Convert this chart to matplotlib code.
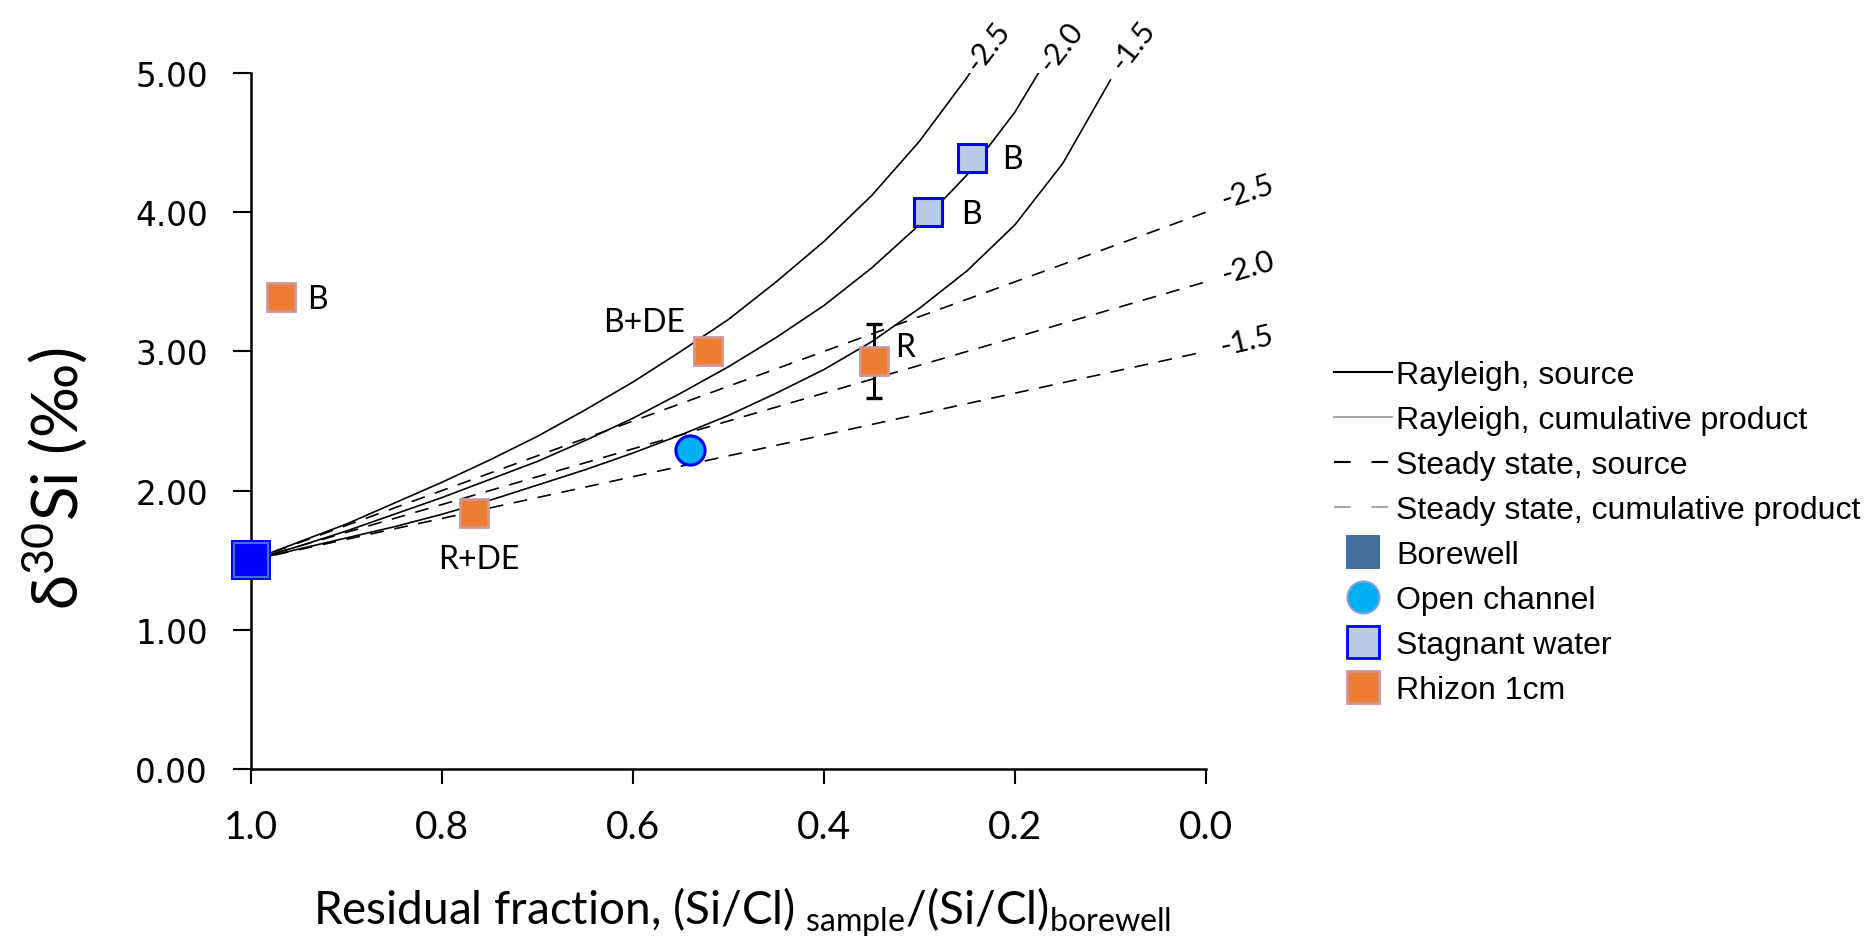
import matplotlib
matplotlib.use("Agg")
import matplotlib.pyplot as plt
from matplotlib.lines import Line2D
import numpy as np

plt.rcParams['font.family'] = ['Lato', 'DejaVu Sans']
plt.rcParams['mathtext.fontset'] = 'custom'
plt.rcParams['mathtext.rm'] = 'Lato'
plt.rcParams['mathtext.default'] = 'regular'

# ---------------- data ----------------
# Rayleigh model (source), residual fraction f and delta30Si
ray_f = [1.0, 0.95, 0.9, 0.85, 0.8, 0.75, 0.7, 0.65, 0.6, 0.55, 0.5,
         0.45, 0.4, 0.35, 0.3, 0.25, 0.2, 0.15, 0.1]
ray_25 = [1.50, 1.63, 1.76, 1.91, 2.06, 2.22, 2.39, 2.58, 2.78, 3.00, 3.23,
          3.50, 3.79, 4.12, 4.51, 4.97, 5.52, 6.24, 7.26]
ray_20 = [1.50, 1.60, 1.71, 1.83, 1.95, 2.08, 2.21, 2.36, 2.52, 2.70, 2.89,
          3.10, 3.33, 3.60, 3.91, 4.27, 4.72, 5.29, 6.11]
ray_15 = [1.50, 1.58, 1.66, 1.74, 1.83, 1.93, 2.04, 2.15, 2.27, 2.40, 2.54,
          2.70, 2.87, 3.07, 3.31, 3.58, 3.91, 4.35, 4.95]
# Steady state model (source)
ss_f = [1.0, 0.9, 0.8, 0.7, 0.6, 0.5, 0.4, 0.3, 0.2, 0.1, 0.0]
ss_25 = [1.50, 1.75, 2.00, 2.25, 2.50, 2.75, 3.00, 3.25, 3.50, 3.75, 4.00]
ss_20 = [1.50, 1.70, 1.90, 2.10, 2.30, 2.50, 2.70, 2.90, 3.10, 3.30, 3.50]
ss_15 = [1.50, 1.65, 1.80, 1.95, 2.10, 2.25, 2.40, 2.55, 2.70, 2.85, 3.00]
curve_labels = ["-2.5", "-2.0", "-1.5"]

# samples
bore_x = [1.0]
bore_y = [1.50]
open_x = [0.54]
open_y = [2.29]
stag_x = [0.291, 0.245]
stag_y = [4.00, 4.39]
stag_lab = ["B", "B"]
rhiz_x = [0.969, 0.766, 0.521, 0.348]
rhiz_y = [3.39, 1.84, 3.00, 2.93]
rhiz_err = [0.0, 0.0, 0.0, 0.265]
rhiz_lab = ["B", "R+DE", "B+DE", "R"]

xticks = [1.0, 0.8, 0.6, 0.4, 0.2, 0.0]
yticks = [0, 1, 2, 3, 4, 5]

# ---------------- figure ----------------
W, H = 1865, 937
fig = plt.figure(figsize=(W / 100, H / 100), dpi=100)
ax = fig.add_axes([251 / W, 1 - 770 / H, (1206 - 251) / W, (770 - 74) / H])

ax.set_xlim(1.0, 0.0)
ax.set_ylim(0, 5)

lw = 1.1
grey = '#A6A6A6'
# cumulative product curves (grey) underneath
for ys in (ray_25, ray_20, ray_15):
    ax.plot(ray_f, ys, color=grey, lw=lw, zorder=1)
for ys in (ss_25, ss_20, ss_15):
    ax.plot(ss_f, ys, color=grey, lw=lw, dashes=(9, 7), zorder=1)
# source curves (black)
for ys in (ray_25, ray_20, ray_15):
    ax.plot(ray_f, ys, color='black', lw=lw, zorder=2)
for ys in (ss_25, ss_20, ss_15):
    ax.plot(ss_f, ys, color='black', lw=lw, dashes=(9, 7), zorder=2)

# curve labels
lab_fs = 22
for (fx, fy), t in zip([(0.229, 5.19), (0.152, 5.19), (0.0764, 5.20)], curve_labels):
    ax.text(fx, fy, t, rotation=52, ha='center', va='center', rotation_mode='anchor',
            fontsize=lab_fs, clip_on=False)
for (fx, fy, r), t in zip([(-0.043, 4.15, 18), (-0.043, 3.61, 16), (-0.042, 3.08, 13)], curve_labels):
    ax.text(fx, fy, t, rotation=r, ha='center', va='center', rotation_mode='anchor',
            fontsize=lab_fs, clip_on=False)

# samples
ax.plot(bore_x, bore_y, ls='none', marker='s', ms=29, mfc='#0000FF', mec='#0000FF', mew=0,
        clip_on=False, zorder=5)
ax.plot(bore_x, bore_y, ls='none', marker='s', ms=25, mfc='#0000FF', mec='#4472C4', mew=1.5,
        clip_on=False, zorder=6)
ax.plot(open_x, open_y, ls='none', marker='o', ms=21, mfc='#00B0F0', mec='#0000FF', mew=2.2,
        zorder=5)
ax.plot(stag_x, stag_y, ls='none', marker='s', ms=20, mfc='#B8CCE4', mec='#0000FF', mew=2.2,
        zorder=5)
rx = np.array(rhiz_x); ry = np.array(rhiz_y); re = np.array(rhiz_err)
m = re > 0
ax.errorbar(rx[m], ry[m], yerr=re[m], fmt='none', ecolor='black', elinewidth=2.2,
            capsize=6, capthick=2.4, zorder=4)
ax.plot(rhiz_x, rhiz_y, ls='none', marker='s', ms=20, mfc='#ED7D31', mec='#D09494', mew=2,
        zorder=5, clip_on=False)

# sample labels
txt_fs = 23
ax.text(0.941, 3.38, rhiz_lab[0], ha='left', va='center', fontsize=txt_fs)
ax.text(0.761, 1.51, rhiz_lab[1], ha='center', va='center', fontsize=txt_fs)
ax.text(0.588, 3.21, rhiz_lab[2], ha='center', va='center', fontsize=txt_fs)
ax.text(0.325, 3.03, rhiz_lab[3], ha='left', va='center', fontsize=txt_fs)
ax.text(0.2565, 3.99, stag_lab[0], ha='left', va='center', fontsize=txt_fs)
ax.text(0.213, 4.38, stag_lab[1], ha='left', va='center', fontsize=txt_fs)

# axes styling
for s in ('top', 'right'):
    ax.spines[s].set_visible(False)
for s in ('left', 'bottom'):
    ax.spines[s].set_linewidth(1.8)
ax.set_xticks(xticks)
ax.set_xticklabels([f"{v:.1f}" for v in xticks])
ax.set_yticks(yticks)
ax.set_yticklabels([f"{v:.2f}" for v in yticks], family='DejaVu Sans')
ax.tick_params(axis='y', direction='out', length=13, width=1.5, pad=18, labelsize=23.5)
ax.tick_params(axis='x', direction='out', length=11, width=1.5, pad=18, labelsize=28)

fig.text(313 / W, 1 - 925 / H,
         r"Residual fraction, (Si/Cl)$_{\ sample}$/(Si/Cl)$_{borewell}$",
         ha='left', va='baseline', fontsize=33)
fig.text(55 / W, 1 - 478 / H, r"δ$^{30}$Si (‰)", rotation=90, ha='center', va='center',
         fontsize=46)

# legend
handles = [
    Line2D([], [], color='black', lw=1.5),
    Line2D([], [], color=grey, lw=1.5),
    Line2D([], [], color='black', lw=1.5, dashes=(8, 10)),
    Line2D([], [], color=grey, lw=1.5, dashes=(8, 10)),
    Line2D([], [], ls='none', marker='s', ms=25, mfc='#44709E', mec='#44709E', mew=0),
    Line2D([], [], ls='none', marker='o', ms=23, mfc='#00B0F0', mec='#7F9FDF', mew=1.5),
    Line2D([], [], ls='none', marker='s', ms=23, mfc='#B8CCE4', mec='#0000FF', mew=2),
    Line2D([], [], ls='none', marker='s', ms=23, mfc='#ED7D31', mec='#D09494', mew=2),
]
labels = ["Rayleigh, source", "Rayleigh, cumulative product", "Steady state, source",
          "Steady state, cumulative product", "Borewell", "Open channel",
          "Stagnant water", "Rhizon 1cm"]
fig.legend(handles, labels, loc='upper left', bbox_to_anchor=(1334 / W, 1 - 361 / H),
           frameon=False, borderpad=0, borderaxespad=0, handlelength=1.8,
           handletextpad=0.15, labelspacing=0.47,
           prop={'family': ['Liberation Sans'], 'size': 23})

fig.savefig("out.png", dpi=100)
